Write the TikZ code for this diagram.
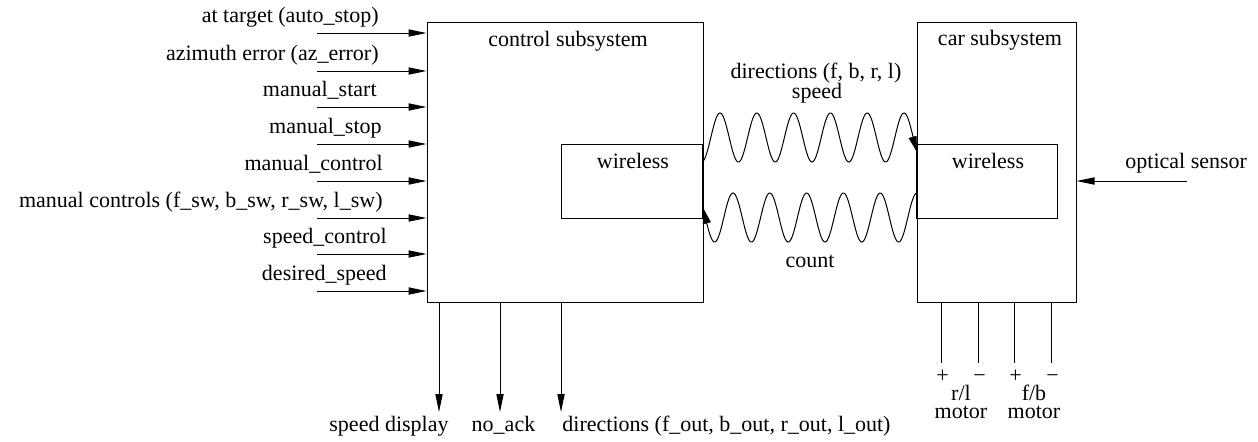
\documentclass[tikz,border=0pt]{standalone}
\usepackage{fontspec}
\setmainfont{Liberation Serif}
\usetikzlibrary{arrows.meta}
\begin{document}
\begin{tikzpicture}[x=0.5pt,y=-0.5pt,
  every node/.style={font=\fontsize{11}{13}\selectfont},
  box/.style={draw=black,line width=0.5pt,rectangle,inner sep=0pt},
  lbl/.style={inner sep=0pt},
  motorlbl/.style={inner sep=0pt,align=center,anchor=base,font=\fontsize{11}{9}\selectfont},
  arr/.style={line width=0.5pt,-{Triangle[length=9pt,width=3.6pt]}},
  wire/.style={line width=0.5pt}]
\useasboundingbox (0,0) rectangle (1258,441);
% boxes
\node[box,minimum width=138pt,minimum height=140pt] (ctrl) at (565,162) {};
\node[box,minimum width=79.5pt,minimum height=140pt] (car) at (996.5,162) {};
\node[box,minimum width=70.5pt,minimum height=37pt] (cw) at (631.5,181) {};
\node[box,minimum width=70.5pt,minimum height=37pt] (kw) at (986.5,181) {};
% box titles
\node[lbl,anchor=base] (ctitle) at (568,46) {control subsystem};
\node[lbl,anchor=base] (ktitle) at (1000,45) {car subsystem};
\node[lbl,anchor=base] (cwl) at (633,168) {wireless};
\node[lbl,anchor=base] (kwl) at (988,168) {wireless};
% inputs
\foreach \y/\bx/\t [count=\i] in {
  33/379/{at target (auto\_stop)},
  71/379/{azimuth error (az\_error)},
  107/377/{manual\_start},
  144/382/{manual\_stop},
  181/383/{manual\_control},
  218/383/{manual controls (f\_sw, b\_sw, r\_sw, l\_sw)},
  254/387/{speed\_control},
  291/387/{desired\_speed}} {
  \coordinate (in\i) at (317,\y);
  \draw[arr] (in\i) -- (in\i -| ctrl.west);
  \node[lbl,anchor=base east] (inl\i) at (\bx,\y-11) {\t};
}
% outputs
\coordinate (o1) at (439,412);
\coordinate (o2) at (500,412);
\coordinate (o3) at (561,412);
\draw[arr] (o1 |- ctrl.south) -- (o1);
\draw[arr] (o2 |- ctrl.south) -- (o2);
\draw[arr] (o3 |- ctrl.south) -- (o3);
\node[lbl,anchor=base] (ol1) at (389,431) {speed display};
\node[lbl,anchor=base] (ol2) at (503.5,431) {no\_ack};
\node[lbl,anchor=base west] (ol3) at (562,431) {directions (f\_out, b\_out, r\_out, l\_out)};
% optical sensor
\coordinate (opt) at (1187,181);
\draw[arr] (opt) -- (opt -| car.east);
\node[lbl,anchor=base west] (optl) at (1125,168) {optical sensor};
% motor wires
\coordinate (m1) at (941,363);
\coordinate (m2) at (978,363);
\coordinate (m3) at (1014,363);
\coordinate (m4) at (1051,363);
\foreach \m in {m1,m2,m3,m4} \draw[wire] (\m |- car.south) -- (\m);
\node[motorlbl] (rl) at (961,418) {+\hspace{12.3pt}−\\r/l\\motor};
\node[motorlbl] (fb) at (1034,418) {+\hspace{12.3pt}−\\f/b\\motor};
% wireless links
\node[lbl,anchor=base] (dl) at (816,78) {directions (f, b, r, l)};
\node[lbl,anchor=base] (sl) at (817,98) {speed};
\node[lbl,anchor=base] (cl) at (810,267) {count};
\draw[arr,-{Triangle[length=8pt,width=4pt]}] plot[domain=702:917,samples=300] (\x,{137.5-24.5*cos(9.7826*(\x-720))});
\draw[arr,-{Triangle[length=8pt,width=4pt]}] plot[domain=917:703,samples=300] (\x,{217.5-24.5*cos(9.7826*(\x-733))});
\end{tikzpicture}
\end{document}
